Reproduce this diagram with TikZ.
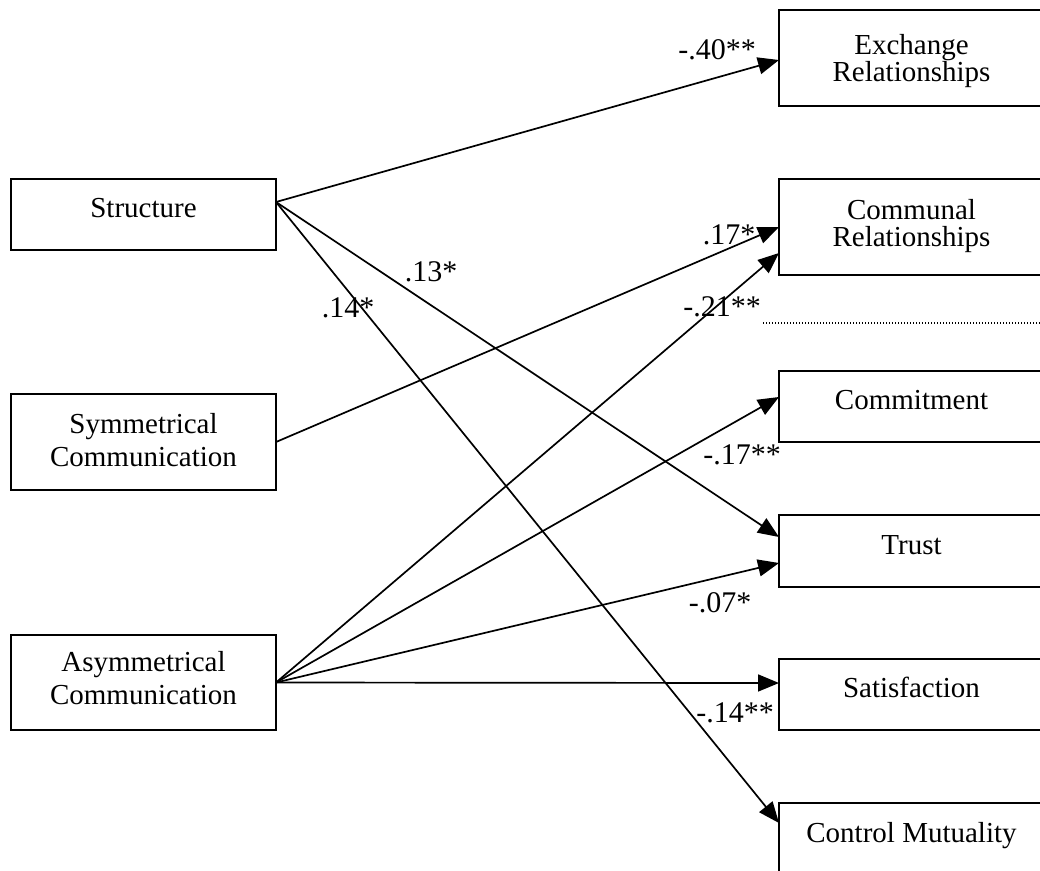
\documentclass[tikz,border=0pt]{standalone}
\usepackage{fontspec}
\setmainfont{Liberation Serif}
\usetikzlibrary{arrows.meta,positioning,calc}

\begin{document}
\begin{tikzpicture}[x=1pt,y=-1pt,>={Triangle[length=21pt,width=17pt]},
  box/.style={draw,line width=2pt,anchor=north west,inner sep=0pt,outer sep=0pt,align=center,minimum width=265pt,font=\fontsize{29}{27}\selectfont},
  onebox/.style={box,text height=22pt,text depth=16pt},
  leftbox/.style={box,font=\fontsize{29}{33}\selectfont},
  link/.style={->,line width=1.7pt},
  coef/.style={inner sep=0pt,font=\fontsize{30}{30}\selectfont}]
\useasboundingbox (0,0) rectangle (1040,870);
\clip (0,0) rectangle (1040,870);
\node[onebox,minimum height=71pt] (struct) at (11,179) {Structure};
\node[leftbox,minimum height=96pt,text depth=4pt] (symm) at (11,394) {Symmetrical\\Communication};
\node[leftbox,minimum height=95pt,text depth=10pt] (asym) at (11,635) {Asymmetrical\\Communication};
\node[box,minimum height=96pt,text depth=0pt] (exch) at (779,10) {Exchange\\Relationships};
\node[box,minimum height=96pt,text depth=8pt] (comm) at (779,179) {Communal\\Relationships};
\node[onebox,minimum height=71pt] (commit) at (779,371) {Commitment};
\node[onebox,minimum height=72pt] (trust) at (779,515) {Trust};
\node[onebox,minimum height=71pt] (satis) at (779,659) {Satisfaction};
\node[onebox,minimum height=72pt] (ctrl) at (779,803) {Control Mutuality};
\draw[link] ([yshift=12.5pt]struct.east)--([yshift=-2pt]exch.west); \draw[link] ([yshift=12.5pt]struct.east)--([yshift=14pt]trust.west); \draw[link] ([yshift=12.5pt]struct.east)--([yshift=16pt]ctrl.west);
\draw[link] (symm.east)--(comm.west);
\draw[link] (asym.east)--([yshift=-26pt]comm.west); \draw[link] (asym.east)--([yshift=9.5pt]commit.west); \draw[link] (asym.east)--([yshift=-12pt]trust.west); \draw[link] (asym.east)--([yshift=11.5pt]satis.west);
\coordinate (sepL) at (763,323); \coordinate (sepR) at (1040,323);
\draw[line width=1.2pt,dash pattern=on 1.2pt off 1.8pt] (sepL)--(sepR);
\node[coef] (c40) at (717,50) {-.40**};
\node[coef] (c17a) at (729,235) {.17*};
\node[coef] (c21) at (722,307) {-.21**};
\node[coef] (c13) at (431,272) {.13*};
\node[coef] (c14) at (348,308) {.14*};
\node[coef] (c17b) at (742,455) {-.17**};
\node[coef] (c07) at (720,603) {-.07*};
\node[coef] (c14b) at (735,713) {-.14**};
\end{tikzpicture}
\end{document}
